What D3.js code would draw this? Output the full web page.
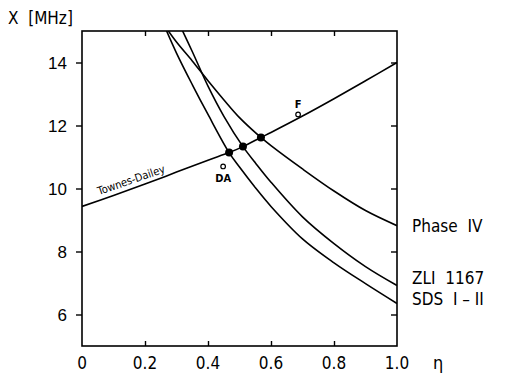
<!DOCTYPE html>
<html>
<head>
<meta charset="utf-8">
<script src="https://cdn.jsdelivr.net/npm/d3@7"></script>
<style>
  body { margin: 0; background: #fff; }
  svg { font-family: "DejaVu Sans Condensed", "DejaVu Sans", sans-serif; }
  .lbl { white-space: pre; }
</style>
</head>
<body>
<svg></svg>
<script>
// Data
// ------------------------------------------
var xTicks = [0, 0.2, 0.4, 0.6, 0.8, 1.0];
var xTickLabels = ["0", "0.2", "0.4", "0.6", "0.8", "1.0"];
var yTicks = [6, 8, 10, 12, 14];

var townesEta = [0, 0.1, 0.2, 0.3, 0.4, 0.467, 0.511, 0.568, 0.6, 0.7, 0.8, 0.9, 1.0];
var townesX = [9.43, 9.78, 10.14, 10.52, 10.9, 11.14, 11.33, 11.62, 11.78, 12.3, 12.85, 13.42, 14.0];

var phaseEta = [0.26, 0.3, 0.35, 0.4, 0.45, 0.5, 0.568, 0.6, 0.7, 0.8, 0.9, 1.0];
var phaseX = [15.2, 14.65, 14.05, 13.42, 12.82, 12.25, 11.62, 11.36, 10.62, 9.92, 9.3, 8.82];

var zliEta = [0.31, 0.35, 0.4, 0.45, 0.511, 0.55, 0.6, 0.7, 0.8, 0.9, 1.0];
var zliX = [15.2, 14.35, 13.25, 12.3, 11.33, 10.82, 10.2, 9.1, 8.25, 7.52, 6.92];

var sdsEta = [0.26, 0.3, 0.35, 0.4, 0.467, 0.5, 0.55, 0.6, 0.7, 0.8, 0.9, 1.0];
var sdsX = [15.2, 14.3, 13.3, 12.35, 11.14, 10.68, 10.03, 9.43, 8.4, 7.64, 6.98, 6.35];

// crossing points (filled) and the two open points
var dotEta = [0.467, 0.511, 0.568];
var dotX = [11.14, 11.33, 11.62];
var openNames = ["DA", "F"];
var openEta = [0.448, 0.686];
var openX = [10.7, 12.35];

var curveNames = ["Phase  IV", "ZLI  1167", "SDS  I \u2013 II"];

// Step 1: Set up chart
//------------------------------------------
var svgWidth = 514;
var svgHeight = 373;

var margin = { top: 31, right: 117, bottom: 27, left: 82 };
var width = svgWidth - margin.left - margin.right;
var height = svgHeight - margin.top - margin.bottom;

var svg = d3.select("svg")
    .attr("width", svgWidth)
    .attr("height", svgHeight);

var chartGroup = svg.append("g")
    .attr("transform", `translate(${margin.left},${margin.top})`);

// Step 2: Scales
//------------------------------------------
var xScale = d3.scaleLinear().domain([0, 1]).range([0, width]);
var yScale = d3.scaleLinear().domain([5, 15]).range([height, 0]);

// Step 3: Axes (left ticks out, the others in)
//------------------------------------------
var leftAxis = d3.axisLeft(yScale).tickValues(yTicks).tickSize(6).tickFormat(d3.format("d"));
var rightAxis = d3.axisLeft(yScale).tickValues(yTicks).tickSize(6).tickFormat("");
var bottomAxis = d3.axisTop(xScale).tickValues(xTicks.slice(1, 5)).tickSize(5).tickFormat("");
var topAxis = d3.axisBottom(xScale).tickValues(xTicks.slice(1, 5)).tickSize(5).tickFormat("");

var gLeft = chartGroup.append("g").call(leftAxis);
chartGroup.append("g").attr("transform", `translate(${width},0)`).call(rightAxis);
chartGroup.append("g").attr("transform", `translate(0,${height})`).call(bottomAxis);
chartGroup.append("g").call(topAxis);

chartGroup.selectAll(".domain").remove();
chartGroup.selectAll(".tick line").attr("stroke", "#000").attr("stroke-width", 1.4);
gLeft.selectAll(".tick text")
    .attr("x", -15)
    .attr("dy", "0.36em")
    .style("font-size", "17px")
    .attr("fill", "#000");

// x labels drawn under the frame
chartGroup.selectAll(".xlab")
    .data(xTicks)
    .enter()
    .append("text")
    .attr("x", d => xScale(d))
    .attr("y", height + 23)
    .attr("text-anchor", "middle")
    .style("font-size", "17px")
    .text((d, i) => xTickLabels[i]);

// frame
chartGroup.append("rect")
    .attr("width", width)
    .attr("height", height)
    .attr("fill", "none")
    .attr("stroke", "#000")
    .attr("stroke-width", 1.6);

// Step 4: Curves
//------------------------------------------
chartGroup.append("clipPath").attr("id", "plot")
  .append("rect").attr("width", width).attr("height", height);

var line = d3.line()
    .x(d => xScale(d[0]))
    .y(d => yScale(d[1]))
    .curve(d3.curveCatmullRom.alpha(0.5));

var series = [
  d3.zip(townesEta, townesX),
  d3.zip(phaseEta, phaseX),
  d3.zip(zliEta, zliX),
  d3.zip(sdsEta, sdsX)
];

chartGroup.selectAll(".curve")
    .data(series)
    .enter()
    .append("path")
    .attr("clip-path", "url(#plot)")
    .attr("d", line)
    .attr("fill", "none")
    .attr("stroke", "#000")
    .attr("stroke-width", 1.6);

// Step 5: Points
//------------------------------------------
chartGroup.selectAll(".dot")
    .data(dotEta)
    .enter()
    .append("circle")
    .attr("cx", d => xScale(d))
    .attr("cy", (d, i) => yScale(dotX[i]))
    .attr("r", 4)
    .attr("fill", "#000");

chartGroup.selectAll(".open")
    .data(openEta)
    .enter()
    .append("circle")
    .attr("cx", d => xScale(d))
    .attr("cy", (d, i) => yScale(openX[i]))
    .attr("r", 2.3)
    .attr("fill", "#fff")
    .attr("stroke", "#000")
    .attr("stroke-width", 1.2);

chartGroup.selectAll(".openlab")
    .data(openNames)
    .enter()
    .append("text")
    .attr("x", (d, i) => xScale(openEta[i]))
    .attr("y", (d, i) => yScale(openX[i]) + (d == "DA" ? 16 : -6))
    .attr("text-anchor", "middle")
    .style("font-size", "11px")
    .style("font-weight", "bold")
    .text(d => d);

// Townes-Dailey label along its curve
var labEta = 0.16;
var labX = townesX[1] + (townesX[2] - townesX[1]) * 0.6;
chartGroup.append("text")
    .attr("transform", `translate(${xScale(labEta)},${yScale(labX) - 5}) rotate(-19)`)
    .attr("text-anchor", "middle")
    .style("font-size", "11px")
    .text("Townes-Dailey");

// Step 6: Curve names at the right end
//------------------------------------------
var nameY = [8.82, 7.15, 6.5];
chartGroup.selectAll(".name")
    .data(curveNames)
    .enter()
    .append("text")
    .attr("class", "lbl")
    .attr("x", width + 15)
    .attr("y", (d, i) => yScale(nameY[i]))
    .attr("dy", "0.36em")
    .style("font-size", "17px")
    .text(d => d);

// axis titles
svg.append("text")
    .attr("class", "lbl")
    .attr("x", 8)
    .attr("y", 24)
    .style("font-size", "17px")
    .text("X  [MHz]");

svg.append("text")
    .attr("x", 433)
    .attr("y", 369)
    .style("font-size", "18px")
    .text("\u03b7");
</script>
</body>
</html>
